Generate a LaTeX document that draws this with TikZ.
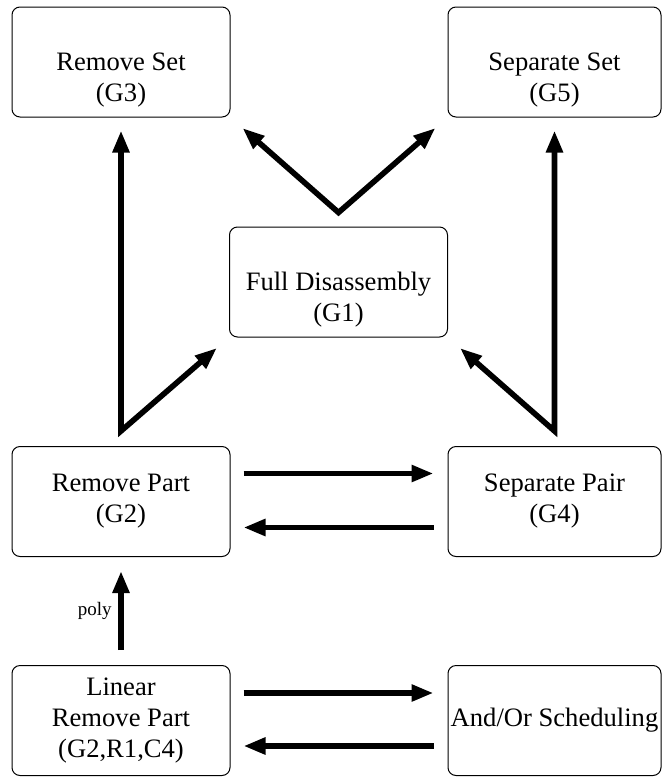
\documentclass[tikz,border=0pt]{standalone}
\usepackage{fontspec}
\setmainfont{Liberation Serif}
\usetikzlibrary{arrows.meta, positioning}

\tikzset{
	goalbox/.style={draw, rounded corners=4pt, line width=0.5pt, minimum width=109pt, minimum height=55pt, inner sep=0pt, align=center, font=\fontsize{13.3}{15.5}\selectfont},
	goalboxr/.style={goalbox, minimum width=106.5pt},
	link/.style={line width=2.8pt, line join=miter}
}

\begin{document}
\begin{tikzpicture}[x=0.5pt, y=-0.5pt, >={Triangle[length=11pt,width=8pt]}]
		\useasboundingbox (0,0) rectangle (662,777);
		%draw nodes
		\node[goalbox] (G3) at (121,62) {\strut\\Remove Set\\(G3)};
		\node[goalboxr] (G5) at (554.5,62) {\strut\\Separate Set\\(G5)};
		\node[goalbox] (G1) at (338.5,282) {\strut\\Full Disassembly\\(G1)};
		\node[goalbox] (G2) at (121,501.5) {Remove Part\\(G2)};
		\node[goalboxr] (G4) at (554.5,501.5) {Separate Pair\\(G4)};
		\node[goalbox] (LRP) at (121,720.5) {Linear\\Remove Part\\(G2,R1,C4)};
		\node[goalboxr] (AOS) at (554.5,720.5) {And/Or Scheduling};
		%branch points
		\coordinate (kL) at ([yshift=7.5pt]G2.north);
		\coordinate (kR) at ([yshift=7.5pt]G4.north);
		\coordinate (kT) at ([yshift=7pt]G1.north);
		%draw arrows
		\draw[link, <->, shorten <=6.5pt, shorten >=8pt] (G3.south) -- (kL) -- (G1.south west);
		\draw[link, <->, shorten <=6.5pt, shorten >=8pt] (G5.south) -- (kR) -- (G1.south east);
		\draw[link, <->, shorten <=8pt, shorten >=8pt] (G3.south east) -- (kT) -- (G5.south west);
		\draw[link, ->, shorten <=6.5pt, shorten >=7pt] ([yshift=14pt]G2.east) -- ([yshift=14pt]G4.west);
		\draw[link, ->, shorten <=7pt, shorten >=6.5pt] ([yshift=-13pt]G4.west) -- ([yshift=-13pt]G2.east);
		\draw[link, ->, shorten <=6.5pt, shorten >=7pt] ([yshift=13.75pt]LRP.east) -- ([yshift=13.75pt]AOS.west);
		\draw[link, ->, shorten <=7pt, shorten >=6.5pt] ([yshift=-12.75pt]AOS.west) -- ([yshift=-12.75pt]LRP.east);
		\draw[link, ->, shorten <=7.5pt, shorten >=7pt] (LRP.north) -- node[left, font=\fontsize{9.5}{11}\selectfont]{poly} (G2.south);
\end{tikzpicture}
\end{document}
